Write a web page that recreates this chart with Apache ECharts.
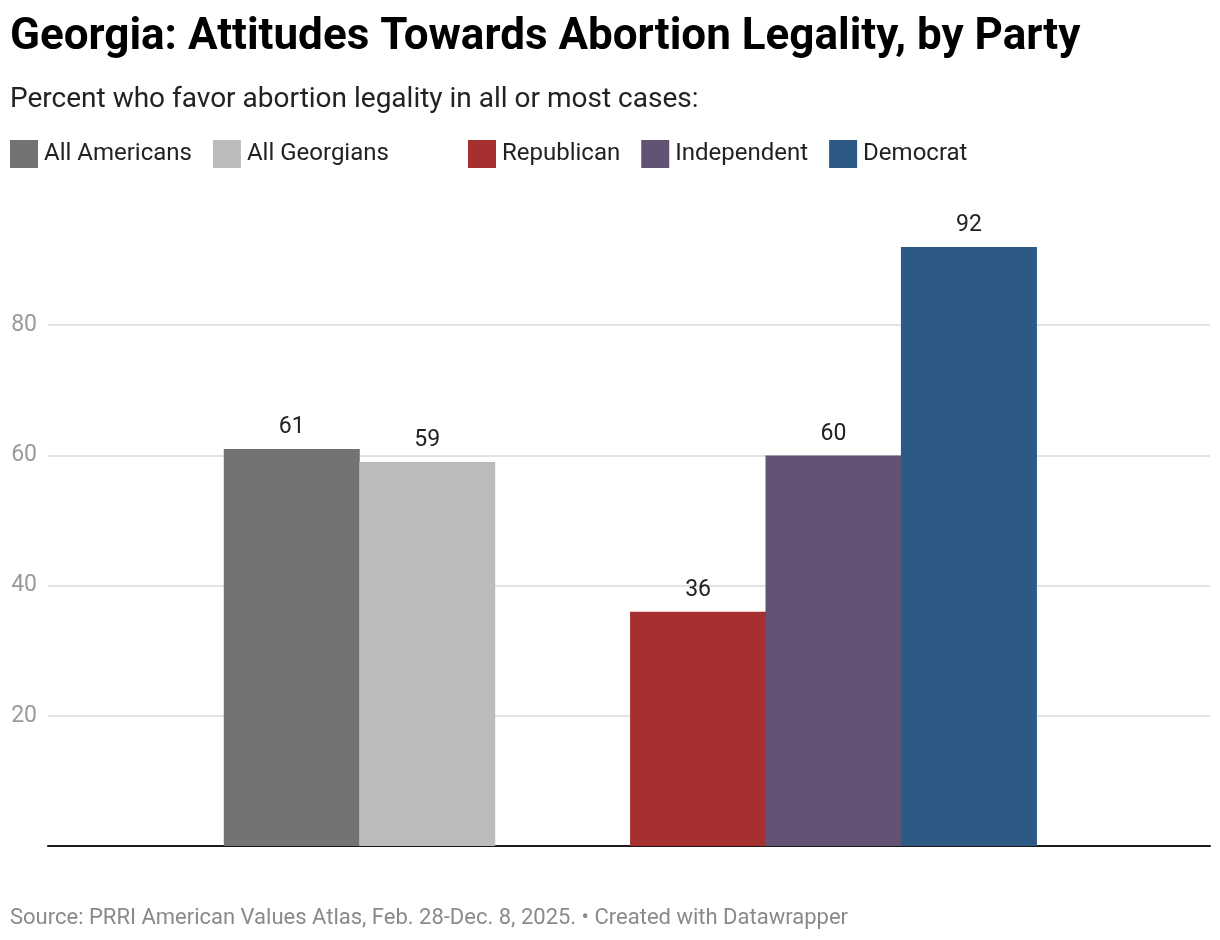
<!DOCTYPE html>
<html>
<head>
<meta charset="utf-8">
<title>Georgia: Attitudes Towards Abortion Legality, by Party</title>
<script src="https://cdn.jsdelivr.net/npm/echarts@6/dist/echarts.min.js"></script>
<style>
  html, body { margin: 0; padding: 0; background: #fff; }
  #chart { width: 1220px; height: 940px; }
</style>
</head>
<body>
<div id="chart"></div>
<script>
// 数据
const overallGroup = ["All Americans", "All Georgians"];
const partyGroup = ["Republican", "Independent", "Democrat"];
const overallValues = [61, 59];
const partyValues = [36, 60, 92];
const yTicks = [20, 40, 60, 80];

const palette = {
  "All Americans": "#737373",
  "All Georgians": "#bbbbbb",
  "Republican": "#a63030",
  "Independent": "#635274",
  "Democrat": "#2d5a84"
};

(function () {
  const myChart = echarts.init(document.getElementById("chart"));
  const font = "Roboto, 'Noto Sans', sans-serif";

  // slot index for each bar: first group, one empty slot, second group
  const names = overallGroup.concat(partyGroup);
  const values = overallValues.concat(partyValues);
  const slots = [];
  overallGroup.forEach((n, i) => slots.push(i));
  partyGroup.forEach((n, i) => slots.push(overallGroup.length + 1 + i));

  const gridLeft = 48, gridRight = 10;
  const xMin = -1.8, xMax = slots[slots.length - 1] + 1.78;
  const unitPx = (1220 - gridLeft - gridRight) / (xMax - xMin);

  const series = names.map((name, i) => ({
    name: name,
    type: "bar",
    data: [[slots[i], values[i]]],
    barWidth: Math.ceil(unitPx),
    barGap: "-100%",
    itemStyle: { color: palette[name] },
    label: {
      show: true,
      position: "top",
      distance: 10,
      color: "#222",
      fontSize: 23,
      fontFamily: font
    }
  }));

  const legendBase = {
    top: 140,
    padding: 0,
    icon: "rect",
    itemWidth: 28,
    itemHeight: 28,
    itemGap: 21,
    selectedMode: false,
    textStyle: { fontSize: 24, color: "#222", fontFamily: font, padding: [0, 0, 0, 1] }
  };

  const option = {
    animation: false,
    title: [
      {
        text: "Georgia: Attitudes Towards Abortion Legality, by Party",
        left: 10,
        top: 16,
        padding: 0,
        textStyle: { fontSize: 44, fontWeight: "bold", color: "#000", fontFamily: font }
      },
      {
        text: "Percent who favor abortion legality in all or most cases:",
        left: 10,
        top: 86,
        padding: 0,
        textStyle: { fontSize: 28, fontWeight: "normal", color: "#222", fontFamily: font }
      },
      {
        text: "Source: PRRI American Values Atlas, Feb. 28-Dec. 8, 2025. • Created with Datawrapper",
        left: 10,
        top: 907,
        padding: 0,
        textStyle: { fontSize: 22, fontWeight: "normal", color: "#8a8a8a", fontFamily: font }
      }
    ],
    legend: [
      Object.assign({}, legendBase, { left: 10, data: overallGroup }),
      Object.assign({}, legendBase, { left: 468, data: partyGroup })
    ],
    grid: {
      left: gridLeft,
      right: gridRight,
      top: 195,
      bottom: 94,
      containLabel: false
    },
    xAxis: {
      type: "value",
      min: xMin,
      max: xMax,
      axisLabel: { show: false },
      axisTick: { show: false },
      splitLine: { show: false },
      axisLine: {
        show: true,
        onZero: false,
        lineStyle: { color: "#1a1a1a", width: 2 }
      }
    },
    yAxis: {
      type: "value",
      min: 0,
      max: 100,
      interval: 20,
      axisLine: { show: false },
      axisTick: { show: false },
      axisLabel: {
        margin: 11,
        color: "#9a9a9a",
        fontSize: 23,
        fontFamily: font,
        formatter: (v) => (yTicks.indexOf(v) >= 0 ? String(v) : "")
      },
      splitLine: {
        showMinLine: false,
        showMaxLine: false,
        lineStyle: { color: "#e3e3e3", width: 2 }
      }
    },
    series: series
  };
  myChart.setOption(option);

  window.addEventListener("resize", () => {
    myChart.resize();
  });
})();
</script>
</body>
</html>
